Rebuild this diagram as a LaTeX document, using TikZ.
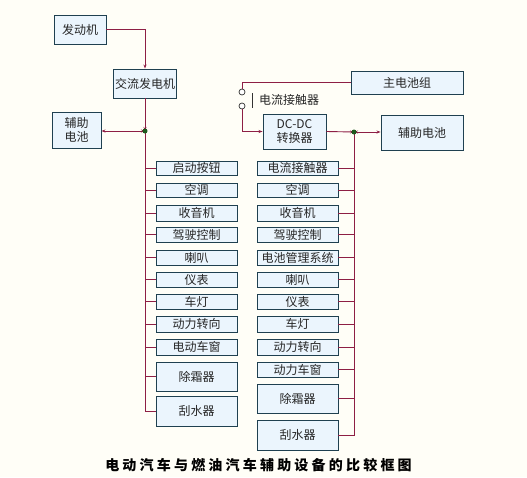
\documentclass[tikz,border=0pt]{standalone}
\usepackage{fontspec}
\setmainfont{Noto Sans CJK SC}
\usetikzlibrary{arrows.meta}
\definecolor{ln}{HTML}{8E1F45}
\definecolor{bd}{HTML}{1F4050}
\definecolor{bf}{HTML}{EBF5FD}
\definecolor{bg}{HTML}{FFFEF7}
\definecolor{dotc}{HTML}{1E5A1E}
\tikzset{
  box/.style={draw=bd, fill=bf, line width=0.9pt, inner sep=0pt, align=center,
    font=\fontsize{12}{13.5}\selectfont, text=black!85},
  lbox/.style={box, minimum width=81pt},
  wire/.style={draw=ln, line width=0.9pt},
  tip/.style={-{Stealth[length=4pt,width=3pt]}},
  tips/.style={{Stealth[length=4pt,width=3pt]}-{Stealth[length=4pt,width=3pt]}},
  jdot/.style={circle, fill=dotc, inner sep=0pt, minimum size=5pt},
  sw/.style={circle, draw=black!80, fill=white, line width=0.7pt, inner sep=0pt, minimum size=6pt}
}
\begin{document}
\begin{tikzpicture}[x=1pt,y=-1pt]
\fill[bg] (0,0) rectangle (527,477);
\useasboundingbox (0,0) rectangle (527,477);

% top left
\node[box, minimum width=52pt, minimum height=29pt] (eng) at (80,29.5) {发动机};
\node[box, minimum width=63pt, minimum height=29pt] (alt) at (145,83.5) {交流发电机};
\node[box, minimum width=49pt, minimum height=36pt] (aux1) at (76.5,130) {辅助\\电池};
\coordinate (ldot) at (145,131);
\coordinate (lbus) at (145,0);

% top right
\node[box, minimum width=112pt, minimum height=23pt] (main) at (407,82.5) {主电池组};
\node[box, minimum width=63pt, minimum height=35pt] (dcdc) at (294.5,131.5) {DC-DC\\转换器};
\node[box, minimum width=82pt, minimum height=35pt] (aux2) at (422,132.5) {辅助电池};
\coordinate (rdot) at (354,132);
\coordinate (rbus) at (354,0);
\node[sw] (s1) at (242,92) {};
\node[sw] (s2) at (242,106) {};
\coordinate (sb1) at (252,93);
\coordinate (sb2) at (252,108);
\node[anchor=west, inner sep=0pt, font=\fontsize{12}{13.5}\selectfont, text=black!85] (swl) at (259,99.5) {电流接触器};

% left column
\node[lbox, minimum height=14pt] (l1) at (196.5,168) {启动按钮};
\node[lbox, minimum height=14pt] (l2) at (196.5,190) {空调};
\node[lbox, minimum height=16pt] (l3) at (196.5,213) {收音机};
\node[lbox, minimum height=15pt] (l4) at (196.5,234.5) {驾驶控制};
\node[lbox, minimum height=15pt] (l5) at (196.5,257.5) {喇叭};
\node[lbox, minimum height=15pt] (l6) at (196.5,279.5) {仪表};
\node[lbox, minimum height=15pt] (l7) at (196.5,301.5) {车灯};
\node[lbox, minimum height=16pt] (l8) at (196.5,324) {动力转向};
\node[lbox, minimum height=16pt] (l9) at (196.5,347) {电动车窗};
\node[lbox, minimum height=29pt] (l10) at (196.5,376.5) {除霜器};
\node[lbox, minimum height=30pt] (l11) at (196.5,411) {刮水器};

% right column
\node[lbox, minimum height=14pt] (r1) at (297.5,168) {电流接触器};
\node[lbox, minimum height=14pt] (r2) at (297.5,190) {空调};
\node[lbox, minimum height=16pt] (r3) at (297.5,213) {收音机};
\node[lbox, minimum height=15pt] (r4) at (297.5,234.5) {驾驶控制};
\node[lbox, minimum height=15pt] (r5) at (297.5,257.5) {电池管理系统};
\node[lbox, minimum height=15pt] (r6) at (297.5,279.5) {喇叭};
\node[lbox, minimum height=15pt] (r7) at (297.5,301.5) {仪表};
\node[lbox, minimum height=16pt] (r8) at (297.5,324) {车灯};
\node[lbox, minimum height=16pt] (r9) at (297.5,347) {动力转向};
\node[lbox, minimum height=15pt] (r10) at (297.5,369.5) {动力车窗};
\node[lbox, minimum height=29pt] (r11) at (297.5,398.5) {除霜器};
\node[lbox, minimum height=30pt] (r12) at (297.5,435) {刮水器};

% wiring left
\draw[wire, tip] (eng.east) -| (alt.north);
\draw[wire, tip] (alt.south) -- (ldot);
\draw[wire, tips] (aux1.east |- ldot) -- (ldot);
\draw[wire] (ldot) -- (ldot |- l11.west) -- (l11.west);
\foreach \i in {1,...,10} \draw[wire] (l\i.west) -- (l\i.west -| lbus);

% wiring right
\draw[wire] (main.west) -| (s1.north);
\draw[wire, tip] (s2.south) |- (dcdc.west);
\draw[draw=black!80, line width=0.9pt] (sb1) -- (sb2);
\draw[wire, tip] (dcdc.east) -- (rdot);
\draw[wire, tips] (rdot) -- (aux2.west |- rdot);
\draw[wire] (rdot) -- (rdot |- r12.east) -- (r12.east);
\foreach \i in {1,...,11} \draw[wire] (r\i.east) -- (r\i.east -| rbus);

\node[jdot] at (ldot) {};
\node[jdot] at (rdot) {};

% title
\node[font=\fontsize{14}{16}\selectfont\bfseries, inner sep=0pt] (title) at (258.5,465)
 {电\kern3.2pt 动\kern3.2pt 汽\kern3.2pt 车\kern3.2pt 与\kern3.2pt 燃\kern3.2pt 油\kern3.2pt 汽\kern3.2pt 车\kern3.2pt 辅\kern3.2pt 助\kern3.2pt 设\kern3.2pt 备\kern3.2pt 的\kern3.2pt 比\kern3.2pt 较\kern3.2pt 框\kern3.2pt 图};
\end{tikzpicture}
\end{document}
